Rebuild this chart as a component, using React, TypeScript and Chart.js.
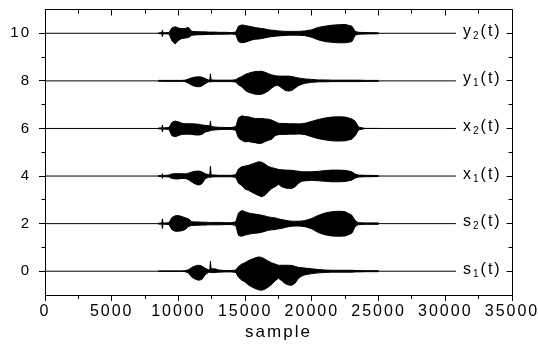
import React, { useEffect, useRef } from 'react';
import { Chart, registerables } from 'chart.js';

Chart.register(...registerables);

const FONT = '"Liberation Sans", Arial, Helvetica, sans-serif';

// axis ticks
const xTicks = [0, 5000, 10000, 15000, 20000, 25000, 30000, 35000];
const xMinorTicks = [2500, 7500, 12500, 17500, 22500, 27500, 32500];
const yTicks = [0, 2, 4, 6, 8, 10];
const yMinorTicks = [1, 3, 5, 7, 9];

// signals (stacked with vertical offsets)
const offsets = [0, 2, 4, 6, 8, 10];
const names = ['s', 's', 'x', 'x', 'y', 'y'];
const subs = ['1', '2', '1', '2', '1', '2'];
const signalLength = 30800;
const labelSample = 31330;

// envelope sample positions
const envSamples = [
  8500, 8750, 8800, 8850, 9300, 9500, 9750, 10000, 10250, 10500, 10750, 11000, 11250, 11500,
  11750, 12000, 12250, 12350, 12400, 12450, 12750, 13000, 13500, 14000, 14300, 14500, 14750,
  15000, 15250, 15500, 15750, 16000, 16250, 16500, 16750, 17000, 17250, 17500, 17750, 18000,
  18250, 18500, 18750, 19000, 19250, 19500, 20000, 20500, 21000, 21500, 22000, 22500, 23000,
  23250, 23500, 24000, 25000,
];

const s1Up = [
  0.01, 0.01, 0.01, 0.01, 0.01, 0.01, 0.01, 0.01, 0.01, 0.02, 0.06, 0.16, 0.22, 0.25,
  0.22, 0.12, 0.06, 0.06, 0.42, 0.1, 0.1, 0.05, 0.03, 0.03, 0.05, 0.2, 0.3,
  0.36, 0.45, 0.5, 0.56, 0.6, 0.58, 0.5, 0.42, 0.35, 0.3, 0.25, 0.25, 0.25,
  0.25, 0.24, 0.2, 0.16, 0.15, 0.13, 0.1, 0.07, 0.05, 0.04, 0.04, 0.04, 0.04,
  0.03, 0.03, 0.02, 0.02,
];
const s1Down = [
  0.01, 0.01, 0.01, 0.01, 0.01, 0.01, 0.01, 0.01, 0.01, 0.02, 0.07, 0.25, 0.33, 0.38,
  0.35, 0.15, 0.05, 0.05, 0.05, 0.06, 0.05, 0.04, 0.03, 0.03, 0.05, 0.25, 0.38,
  0.45, 0.58, 0.66, 0.73, 0.78, 0.8, 0.75, 0.66, 0.55, 0.4, 0.3, 0.4, 0.52,
  0.58, 0.59, 0.5, 0.3, 0.2, 0.15, 0.1, 0.07, 0.05, 0.04, 0.04, 0.04, 0.04,
  0.03, 0.03, 0.02, 0.02,
];
const s2Up = [
  0.02, 0.02, 0.2, 0.02, 0.04, 0.25, 0.33, 0.34, 0.3, 0.25, 0.2, 0.08, 0.07, 0.07,
  0.06, 0.06, 0.05, 0.05, 0.05, 0.05, 0.05, 0.05, 0.04, 0.04, 0.08, 0.45, 0.55,
  0.5, 0.45, 0.42, 0.4, 0.38, 0.35, 0.32, 0.28, 0.26, 0.24, 0.2, 0.17, 0.14,
  0.12, 0.1, 0.1, 0.1, 0.11, 0.13, 0.22, 0.35, 0.45, 0.5, 0.52, 0.5, 0.35,
  0.12, 0.04, 0.03, 0.03,
];
const s2Down = [
  0.02, 0.02, 0.2, 0.02, 0.04, 0.25, 0.32, 0.32, 0.3, 0.25, 0.12, 0.08, 0.07, 0.07,
  0.06, 0.06, 0.05, 0.05, 0.05, 0.05, 0.05, 0.05, 0.04, 0.04, 0.08, 0.5, 0.53,
  0.48, 0.45, 0.42, 0.4, 0.39, 0.36, 0.32, 0.28, 0.26, 0.25, 0.22, 0.2, 0.16,
  0.13, 0.11, 0.1, 0.1, 0.11, 0.13, 0.22, 0.38, 0.47, 0.52, 0.53, 0.52, 0.4,
  0.12, 0.04, 0.03, 0.03,
];
const x1Up = [
  0.02, 0.02, 0.1, 0.02, 0.04, 0.09, 0.1, 0.1, 0.1, 0.09, 0.12, 0.17, 0.2, 0.21,
  0.18, 0.1, 0.06, 0.06, 0.42, 0.05, 0.04, 0.03, 0.03, 0.03, 0.06, 0.3, 0.39,
  0.42, 0.45, 0.5, 0.55, 0.6, 0.58, 0.5, 0.4, 0.35, 0.32, 0.28, 0.26, 0.25,
  0.25, 0.24, 0.22, 0.2, 0.18, 0.18, 0.18, 0.2, 0.23, 0.25, 0.25, 0.24, 0.18,
  0.08, 0.04, 0.03, 0.02,
];
const x1Down = [
  0.02, 0.02, 0.1, 0.02, 0.04, 0.1, 0.12, 0.12, 0.1, 0.1, 0.15, 0.25, 0.33, 0.38,
  0.33, 0.12, 0.05, 0.05, 0.08, 0.04, 0.03, 0.03, 0.03, 0.03, 0.06, 0.3, 0.4,
  0.55, 0.6, 0.68, 0.75, 0.82, 0.87, 0.8, 0.65, 0.52, 0.45, 0.35, 0.45, 0.5,
  0.52, 0.52, 0.45, 0.3, 0.22, 0.2, 0.18, 0.2, 0.22, 0.24, 0.24, 0.23, 0.17,
  0.08, 0.04, 0.03, 0.02,
];
const x2Up = [
  0.02, 0.02, 0.14, 0.02, 0.04, 0.25, 0.31, 0.28, 0.22, 0.2, 0.2, 0.2, 0.19, 0.18,
  0.15, 0.13, 0.12, 0.1, 0.31, 0.08, 0.06, 0.05, 0.04, 0.04, 0.08, 0.45, 0.53,
  0.5, 0.49, 0.45, 0.42, 0.42, 0.42, 0.4, 0.39, 0.35, 0.28, 0.22, 0.21, 0.21,
  0.2, 0.2, 0.2, 0.19, 0.2, 0.22, 0.3, 0.38, 0.44, 0.48, 0.49, 0.48, 0.4,
  0.3, 0.06, 0, 0,
];
const x2Down = [
  0.02, 0.02, 0.14, 0.02, 0.04, 0.3, 0.35, 0.3, 0.25, 0.24, 0.24, 0.25, 0.27, 0.28,
  0.25, 0.15, 0.12, 0.1, 0.1, 0.08, 0.06, 0.05, 0.04, 0.04, 0.08, 0.4, 0.5,
  0.56, 0.55, 0.58, 0.6, 0.63, 0.62, 0.55, 0.5, 0.45, 0.3, 0.26, 0.25, 0.25,
  0.24, 0.24, 0.24, 0.23, 0.24, 0.26, 0.35, 0.43, 0.48, 0.52, 0.53, 0.52, 0.45,
  0.3, 0.06, 0, 0,
];
const y1Up = [
  0.02, 0.02, 0.02, 0.02, 0.02, 0.02, 0.02, 0.02, 0.02, 0.03, 0.08, 0.13, 0.16, 0.17,
  0.16, 0.1, 0.04, 0.04, 0.3, 0.04, 0.03, 0.03, 0.03, 0.03, 0.05, 0.12, 0.18,
  0.27, 0.32, 0.36, 0.39, 0.4, 0.4, 0.36, 0.3, 0.25, 0.22, 0.2, 0.2, 0.2,
  0.2, 0.18, 0.15, 0.12, 0.1, 0.08, 0.06, 0.04, 0.04, 0.03, 0.03, 0.03, 0.03,
  0.03, 0.03, 0.02, 0.02,
];
const y1Down = [
  0.02, 0.02, 0.02, 0.02, 0.02, 0.02, 0.02, 0.02, 0.02, 0.03, 0.1, 0.18, 0.23, 0.25,
  0.22, 0.12, 0.04, 0.04, 0.05, 0.03, 0.03, 0.03, 0.03, 0.03, 0.05, 0.17, 0.25,
  0.4, 0.48, 0.52, 0.56, 0.57, 0.56, 0.5, 0.42, 0.3, 0.2, 0.2, 0.3, 0.4,
  0.43, 0.4, 0.3, 0.2, 0.14, 0.1, 0.06, 0.04, 0.04, 0.03, 0.03, 0.03, 0.03,
  0.03, 0.03, 0.02, 0.02,
];
const y2Up = [
  0.02, 0.02, 0.14, 0.02, 0.03, 0.22, 0.28, 0.22, 0.2, 0.2, 0.25, 0.08, 0.07, 0.07,
  0.06, 0.06, 0.05, 0.05, 0.05, 0.05, 0.05, 0.04, 0.04, 0.03, 0.05, 0.3, 0.35,
  0.33, 0.3, 0.27, 0.24, 0.22, 0.2, 0.18, 0.15, 0.13, 0.12, 0.1, 0.09, 0.08,
  0.08, 0.08, 0.08, 0.08, 0.09, 0.1, 0.15, 0.25, 0.3, 0.34, 0.36, 0.37, 0.3,
  0.08, 0.04, 0.03, 0.02,
];
const y2Down = [
  0.02, 0.02, 0.14, 0.02, 0.03, 0.3, 0.45, 0.3, 0.22, 0.2, 0.18, 0.08, 0.07, 0.06,
  0.06, 0.05, 0.05, 0.05, 0.05, 0.05, 0.04, 0.04, 0.04, 0.03, 0.05, 0.35, 0.4,
  0.38, 0.33, 0.28, 0.25, 0.24, 0.22, 0.19, 0.16, 0.14, 0.12, 0.11, 0.1, 0.09,
  0.08, 0.08, 0.08, 0.08, 0.09, 0.1, 0.17, 0.28, 0.35, 0.38, 0.4, 0.4, 0.35,
  0.08, 0.04, 0.03, 0.02,
];

const upperEnvelopes = [s1Up, s2Up, x1Up, x2Up, y1Up, y2Up];
const lowerEnvelopes = [s1Down, s2Down, x1Down, x2Down, y1Down, y2Down];

const alignPx = (v: number) => Math.round(v - 0.5) + 0.5;

const framePlugin = {
  id: 'frameAndLabels',
  beforeDraw(chart: any) {
    chart.ctx.letterSpacing = '2px';
  },
  afterDraw(chart: any) {
    const ctx = chart.ctx;
    const a = chart.chartArea;
    const xs = chart.scales.x;
    const ys = chart.scales.y;
    ctx.save();
    ctx.letterSpacing = '0px';
    ctx.strokeStyle = '#000';
    ctx.lineWidth = 1;
    const L = alignPx(a.left);
    const R = alignPx(a.right);
    const T = alignPx(a.top);
    const B = alignPx(a.bottom);
    ctx.beginPath();
    ctx.moveTo(L, T);
    ctx.lineTo(R, T);
    ctx.lineTo(R, B);
    xTicks.forEach((v) => {
      const p = alignPx(xs.getPixelForValue(v));
      ctx.moveTo(p, T);
      ctx.lineTo(p, T + 6);
    });
    xMinorTicks.forEach((v) => {
      const p = alignPx(xs.getPixelForValue(v));
      ctx.moveTo(p, T);
      ctx.lineTo(p, T + 4);
      ctx.moveTo(p, B);
      ctx.lineTo(p, B + 3.5);
    });
    yTicks.forEach((v) => {
      const p = alignPx(ys.getPixelForValue(v));
      ctx.moveTo(R, p);
      ctx.lineTo(R - 6, p);
    });
    yMinorTicks.forEach((v) => {
      const p = alignPx(ys.getPixelForValue(v));
      ctx.moveTo(R, p);
      ctx.lineTo(R - 4, p);
      ctx.moveTo(L, p);
      ctx.lineTo(L - 4, p);
    });
    ctx.stroke();

    // signal labels
    ctx.fillStyle = '#000';
    ctx.textBaseline = 'alphabetic';
    ctx.textAlign = 'left';
    offsets.forEach((off, i) => {
      const px = xs.getPixelForValue(labelSample);
      const base = ys.getPixelForValue(off) + 2.6;
      ctx.letterSpacing = '2px';
      ctx.font = `16px ${FONT}`;
      ctx.fillText(names[i], px, base);
      let cx = px + ctx.measureText(names[i]).width;
      ctx.font = `10px ${FONT}`;
      ctx.fillText(subs[i], cx, base + 3);
      cx += ctx.measureText(subs[i]).width;
      ctx.font = `16px ${FONT}`;
      ctx.fillText('(t)', cx, base);
    });
    ctx.restore();
    chart.ctx.letterSpacing = '0px';
  },
};

export default function App() {
  const canvasRef = useRef<HTMLCanvasElement | null>(null);

  useEffect(() => {
    if (!canvasRef.current) return;
    const datasets: any[] = [];
    offsets.forEach((off, i) => {
      datasets.push({
        data: [
          { x: 0, y: off },
          { x: signalLength, y: off },
        ],
        borderColor: '#000',
        borderWidth: 1,
        pointRadius: 0,
        fill: false,
      });
      datasets.push({
        data: envSamples.map((s, k) => ({ x: s, y: off - lowerEnvelopes[i][k] })),
        borderColor: '#000',
        borderWidth: 1,
        pointRadius: 0,
        fill: false,
      });
      datasets.push({
        data: envSamples.map((s, k) => ({ x: s, y: off + upperEnvelopes[i][k] })),
        borderColor: '#000',
        backgroundColor: '#000',
        borderWidth: 1,
        pointRadius: 0,
        fill: '-1',
      });
    });

    const chart = new Chart(canvasRef.current, {
      type: 'line',
      data: { datasets },
      options: {
        animation: false,
        responsive: false,
        events: [],
        layout: { padding: { top: 9.5, right: 26, left: 0, bottom: 0 } },
        plugins: {
          legend: { display: false },
          tooltip: { enabled: false },
          title: { display: false },
        },
        elements: { line: { tension: 0 } },
        scales: {
          x: {
            type: 'linear',
            min: 0,
            max: 35000,
            afterBuildTicks: (s: any) => {
              s.ticks = xTicks.map((v) => ({ value: v }));
            },
            afterFit: (s: any) => {
              s.height = 56;
              s.paddingLeft = 0;
              s.paddingRight = 0;
            },
            grid: {
              display: true,
              drawOnChartArea: false,
              drawTicks: true,
              tickLength: 6,
              color: '#000',
              lineWidth: 1,
            },
            border: { display: true, color: '#000', width: 1 },
            ticks: {
              color: '#000',
              font: { family: FONT, size: 16 },
              padding: 1,
              maxRotation: 0,
              autoSkip: false,
              callback: (v: any) => String(v),
            },
            title: {
              display: true,
              text: 'sample',
              color: '#000',
              font: { family: FONT, size: 17 },
              padding: { top: 0, bottom: 8 },
            },
          },
          y: {
            type: 'linear',
            min: -1,
            max: 11,
            afterBuildTicks: (s: any) => {
              s.ticks = yTicks.map((v) => ({ value: v }));
            },
            afterFit: (s: any) => {
              s.width = 45;
              s.paddingTop = 0;
              s.paddingBottom = 0;
            },
            grid: {
              display: true,
              drawOnChartArea: false,
              drawTicks: true,
              tickLength: 6,
              color: '#000',
              lineWidth: 1,
            },
            border: { display: true, color: '#000', width: 1 },
            ticks: {
              color: '#000',
              font: { family: FONT, size: 15 },
              padding: 8,
              autoSkip: false,
              callback: (v: any) => String(v),
            },
          },
        },
      },
      plugins: [framePlugin],
    });
    return () => chart.destroy();
  }, []);

  return (
    <div style={{ position: 'fixed', left: 0, top: 0, width: 538, height: 351, background: '#fff' }}>
      <canvas ref={canvasRef} width={538} height={351} style={{ display: 'block' }} />
    </div>
  );
}
